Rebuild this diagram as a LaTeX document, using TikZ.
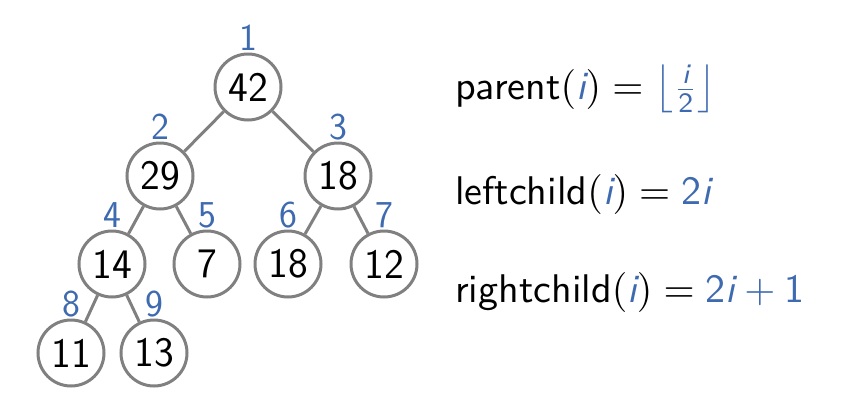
\documentclass[tikz,border=0pt]{standalone}
\usepackage{amsmath}
\usepackage{fontspec}
\renewcommand{\familydefault}{\sfdefault}
\definecolor{idxblue}{RGB}{62,106,176}
\definecolor{ringgray}{RGB}{128,128,128}
\newcommand{\iv}{\textcolor{idxblue}{\textit{i}}}
% a formula set at 10pt and enlarged four times
\newcommand{\bigformula}[1]{\scalebox{4}{\fontsize{10}{12}\selectfont #1}}
\begin{document}
\begin{tikzpicture}[x=1pt,y=-1pt,
  heapnode/.style={circle,draw=ringgray,line width=3pt,minimum size=66pt,inner sep=0pt,
    font=\fontsize{42}{50}\selectfont},
  idx/.style={text=idxblue,font=\fontsize{38}{46}\selectfont},
  link/.style={draw=ringgray,line width=3pt},
  formula/.style={anchor=base west,inner sep=0pt}]
\useasboundingbox (0,0) rectangle (865,410);
% heap nodes
\node[heapnode] (n1) at (248,87) {42};
\node[heapnode] (n2) at (160,176) {29};
\node[heapnode] (n3) at (338,176) {18};
\node[heapnode] (n4) at (112,264) {14};
\node[heapnode] (n5) at (207,264) {7};
\node[heapnode] (n6) at (288,264) {18};
\node[heapnode] (n7) at (384,264) {12};
\node[heapnode] (n8) at (71,353) {11};
\node[heapnode] (n9) at (154,353) {13};
% array indices above each node
\foreach \k in {1,...,9}{
  \node[idx] (l\k) at ([yshift=49pt]n\k.center) {\k};
}
% parent-child links
\draw[link] (n1) -- (n2);
\draw[link] (n1) -- (n3);
\draw[link] (n2) -- (n4);
\draw[link] (n2) -- (n5);
\draw[link] (n3) -- (n6);
\draw[link] (n3) -- (n7);
\draw[link] (n4) -- (n8);
\draw[link] (n4) -- (n9);
% index formulas
\node[formula] (f1) at (455,99) {\bigformula{$\textsf{parent}(\iv) =
  \textcolor{idxblue}{\left\lfloor\genfrac{}{}{0.01pt}{}{\textit{i}}{\textsf{2}}\right\rfloor}$}};
\node[formula] (f2) at (455,204) {\bigformula{$\textsf{leftchild}(\iv) =
  \textcolor{idxblue}{\textsf{2}\textit{i}}$}};
\node[formula] (f3) at (455,302) {\bigformula{$\textsf{rightchild}(\iv) =
  \textcolor{idxblue}{\textsf{2}\textit{i}\mskip\medmuskip{+}\mskip\medmuskip\textsf{1}}$}};
\end{tikzpicture}
\end{document}
